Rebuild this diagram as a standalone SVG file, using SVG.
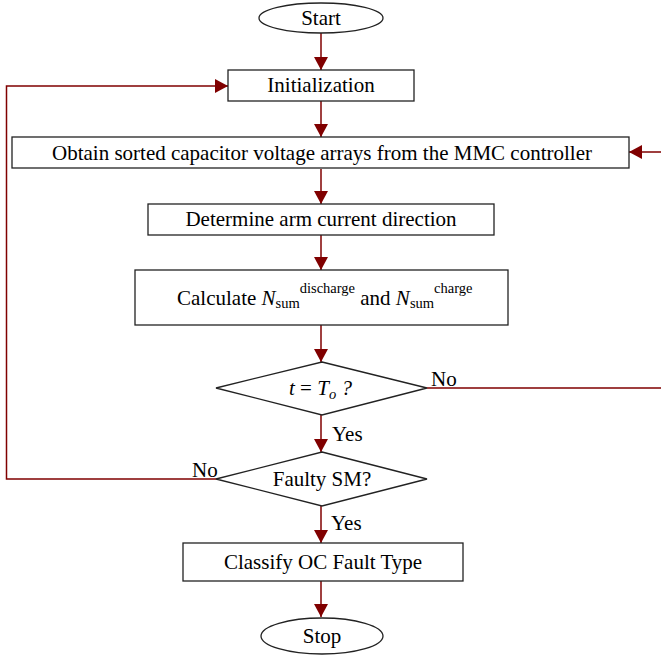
<svg xmlns="http://www.w3.org/2000/svg" width="661" height="656" viewBox="0 0 661 656">
<style>
.box{fill:#fff;stroke:#222;stroke-width:1.3}
.ln{fill:none;stroke:#800000;stroke-width:1.5}
text{font-family:"Liberation Serif","Times New Roman",serif;font-size:21px;fill:#000}
.c{text-anchor:middle}
.sm{font-size:14.5px}
.it{font-style:italic}
</style>
<defs>
<marker id="ah" markerUnits="userSpaceOnUse" markerWidth="14" markerHeight="14" refX="13" refY="7" orient="auto">
<path d="M0,0 L13,7 L0,14 Z" fill="#800000"/>
</marker>
</defs>
<g id="connectors">
<line class="ln" x1="321" y1="33" x2="321" y2="70" marker-end="url(#ah)"/>
<line class="ln" x1="321" y1="101" x2="321" y2="137" marker-end="url(#ah)"/>
<line class="ln" x1="321" y1="169" x2="321" y2="204" marker-end="url(#ah)"/>
<line class="ln" x1="321" y1="235" x2="321" y2="270" marker-end="url(#ah)"/>
<line class="ln" x1="321" y1="325" x2="321" y2="362" marker-end="url(#ah)"/>
<line class="ln" x1="321" y1="415" x2="321" y2="452" marker-end="url(#ah)"/>
<line class="ln" x1="321" y1="506" x2="321" y2="543" marker-end="url(#ah)"/>
<line class="ln" x1="321" y1="581" x2="321" y2="617" marker-end="url(#ah)"/>
<polyline class="ln" points="427,388 664,388 664,152 629,152" marker-end="url(#ah)"/>
<polyline class="ln" points="216,479 6.5,479 6.5,86 228,86" marker-end="url(#ah)"/>
</g>
<g id="start">
<ellipse class="box" cx="321" cy="18" rx="62" ry="15"/>
<text class="c" x="321" y="25">Start</text>
</g>
<g id="init">
<rect class="box" x="228" y="70" width="186" height="31"/>
<text class="c" x="321" y="92">Initialization</text>
</g>
<g id="obtain">
<rect class="box" x="12" y="137" width="617" height="31"/>
<text class="c" x="322" y="160">Obtain sorted capacitor voltage arrays from the MMC controller</text>
</g>
<g id="determine">
<rect class="box" x="148" y="204" width="346" height="31"/>
<text class="c" x="321" y="226">Determine arm current direction</text>
</g>
<g id="calc">
<rect class="box" x="135" y="270" width="373" height="55"/>
<text x="177" y="305">Calculate <tspan class="it">N</tspan><tspan class="sm" dy="3">sum</tspan><tspan class="sm" dy="-15">discharge</tspan><tspan dy="12"> and </tspan><tspan class="it">N</tspan><tspan class="sm" dy="3">sum</tspan><tspan class="sm" dy="-15">charge</tspan></text>
</g>
<g id="dec1">
<polygon class="box" points="322,362 427,388 322,415 216,388"/>
<text x="289" y="395"><tspan class="it">t</tspan> = <tspan class="it">T</tspan><tspan class="it sm" dy="4">o</tspan><tspan class="it" dy="-4"> ?</tspan></text>
<text x="431" y="386">No</text>
<text x="332" y="441">Yes</text>
</g>
<g id="dec2">
<polygon class="box" points="322,452 427,479 322,506 216,479"/>
<text class="c" x="322" y="486">Faulty SM?</text>
<text x="192" y="477">No</text>
<text x="331" y="530">Yes</text>
</g>
<g id="classify">
<rect class="box" x="183" y="543" width="280" height="38"/>
<text class="c" x="323" y="569">Classify OC Fault Type</text>
</g>
<g id="stop">
<ellipse class="box" cx="322" cy="636" rx="61" ry="18"/>
<text class="c" x="322" y="643">Stop</text>
</g>
</svg>
